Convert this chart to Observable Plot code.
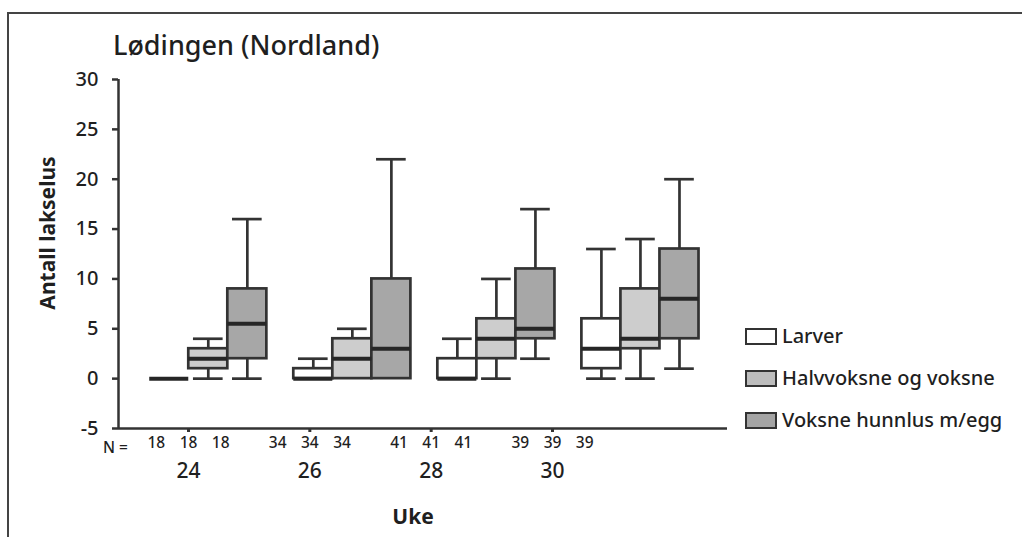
<!DOCTYPE html>
<html>
<head>
<meta charset="utf-8">
<script src="https://cdn.jsdelivr.net/npm/d3@7"></script>
<script src="https://cdn.jsdelivr.net/npm/@observablehq/plot@0.6"></script>
<style>
  body { margin: 0; background: #fff; }
  #wrap { position: relative; width: 1022px; height: 537px; overflow: hidden; background: #fff;
          font-family: "Noto Sans", sans-serif; color: #1f1f1f; font-weight: 500; }
  #wrap .abs { position: absolute; white-space: nowrap; }
  #wrap svg { position: absolute; left: 0; top: 0; }
  .sw { position: absolute; width: 28px; height: 13px; border: 2px solid #333; }
</style>
</head>
<body>
<div id="wrap">
  <div class="abs" style="left:7px;top:12px;width:1100px;height:700px;border:2px solid #444;"></div>
  <div class="abs" id="title" style="left:113px;top:26px;font-size:27px;">Lødingen (Nordland)</div>
  <div class="abs" id="ylab" style="left:47px;top:233px;font-size:21px;font-weight:700;transform:translate(-50%,-50%) rotate(-90deg);">Antall lakselus</div>
  <div class="abs" id="nlab" style="left:103px;top:436px;font-size:15.5px;">N =</div>
  <div class="abs" id="xlab" style="left:413px;top:516px;font-size:21px;font-weight:700;transform:translate(-50%,-50%);">Uke</div>
  <div id="legend"></div>
</div>
<script>
// ---- data ----
const weeks = [24, 26, 28, 30];
const series = ["Larver", "Halvvoksne og voksne", "Voksne hunnlus m/egg"];
const nCounts = [18, 34, 41, 39];
// [min, q1, median, q3, max] per week
const larverStats = [[0, 0, 0, 0, 0], [0, 0, 0, 1, 2], [0, 0, 0, 2, 4], [0, 1, 3, 6, 13]];
const halvStats   = [[0, 1, 2, 3, 4], [0, 0, 2, 4, 5], [0, 2, 4, 6, 10], [0, 3, 4, 9, 14]];
const voksneStats = [[0, 2, 5.5, 9, 16], [0, 0, 3, 10, 22], [2, 4, 5, 11, 17], [1, 4, 8, 13, 20]];
const yTicks = [-5, 0, 5, 10, 15, 20, 25, 30];

const fills = ["#ffffff", "#cdcdcd", "#a7a7a7"];
const swatchFills = ["#ffffff", "#bdbdbd", "#a4a4a4"];
const stroke = "#333333";
const groupStep = 3.69; // group spacing in box-width units

const allStats = [larverStats, halvStats, voksneStats];
const boxes = weeks.flatMap((w, gi) => series.map((s, si) => {
  const [min, q1, median, q3, max] = allStats[si][gi];
  return {week: w, series: s, si, p: gi * groupStep + si, min, q1, median, q3, max};
}));
const nTable = weeks.flatMap((w, gi) => series.map((s, si) => ({week: w, si, n: nCounts[gi]})));

const font = "'Noto Sans', sans-serif";

// ---- main plot: boxes and y axis ----
const plotA = Plot.plot({
  width: 1022, height: 537,
  marginLeft: 118, marginRight: 295, marginTop: 79, marginBottom: 109,
  style: {fontFamily: font, fontSize: "20px", fontWeight: 500, color: "#1f1f1f", background: "transparent"},
  x: {domain: [-1.3, 14.3], axis: null},
  y: {domain: [-5, 30], axis: null},
  marks: [
    Plot.axisY({ticks: yTicks, tickFormat: d => String(d), tickSize: 6, tickPadding: 14, fontSize: 20, stroke: stroke, strokeWidth: 2.5}),
    Plot.ruleX([-1.3], {y1: -5, y2: 30, stroke: stroke, strokeWidth: 2.5}),
    Plot.ruleY([-5], {stroke: stroke, strokeWidth: 2.5}),
    Plot.ruleX(boxes, {x: "p", y1: "q3", y2: "max", stroke, strokeWidth: 2.7}),
    Plot.ruleX(boxes, {x: "p", y1: "min", y2: "q1", stroke, strokeWidth: 2.7}),
    Plot.ruleY(boxes.filter(d => d.max > d.q3), {x1: d => d.p - 0.38, x2: d => d.p + 0.38, y: "max", stroke, strokeWidth: 2.7}),
    Plot.ruleY(boxes.filter(d => d.min < d.q1), {x1: d => d.p - 0.38, x2: d => d.p + 0.38, y: "min", stroke, strokeWidth: 2.7}),
    Plot.rect(boxes, {x1: d => d.p - 0.5, x2: d => d.p + 0.5, y1: "q1", y2: "q3",
      fill: d => fills[d.si], stroke, strokeWidth: 2.7}),
    Plot.ruleY(boxes, {x1: d => d.p - 0.5, x2: d => d.p + 0.5, y: "median", stroke: "#262626", strokeWidth: 4})
  ]
});

// ---- category row: week ticks, N labels, week labels ----
const plotB = Plot.plot({
  width: 1022, height: 537,
  marginLeft: 0, marginRight: 0, marginTop: 79, marginBottom: 109,
  style: {fontFamily: font, fontSize: "21px", fontWeight: 500, color: "#1f1f1f", background: "transparent"},
  x: {domain: [24, 30], range: [188, 552], axis: null},
  marks: [
    Plot.axisX(weeks, {anchor: "bottom", tickSize: 4, tickPadding: 31, fontSize: 21, stroke: stroke, strokeWidth: 3}),
    Plot.text(nTable, {x: d => d.week + (d.si - 1) * 0.53, text: d => String(d.n), frameAnchor: "bottom", dy: 19, fontSize: 15.5})
  ]
});

const wrap = document.getElementById("wrap");
wrap.appendChild(plotA);
wrap.appendChild(plotB);

// ---- legend ----
const legend = document.getElementById("legend");
const legendTop = [328, 370, 412];
series.forEach((s, i) => {
  const sw = document.createElement("div");
  sw.className = "sw";
  sw.style.left = "745px";
  sw.style.top = legendTop[i] + "px";
  sw.style.background = swatchFills[i];
  legend.appendChild(sw);
  const t = document.createElement("div");
  t.className = "abs";
  t.style.left = "782px";
  t.style.top = (legendTop[i] - 6) + "px";
  t.style.fontSize = "20px";
  t.textContent = s;
  legend.appendChild(t);
});
</script>
</body>
</html>
